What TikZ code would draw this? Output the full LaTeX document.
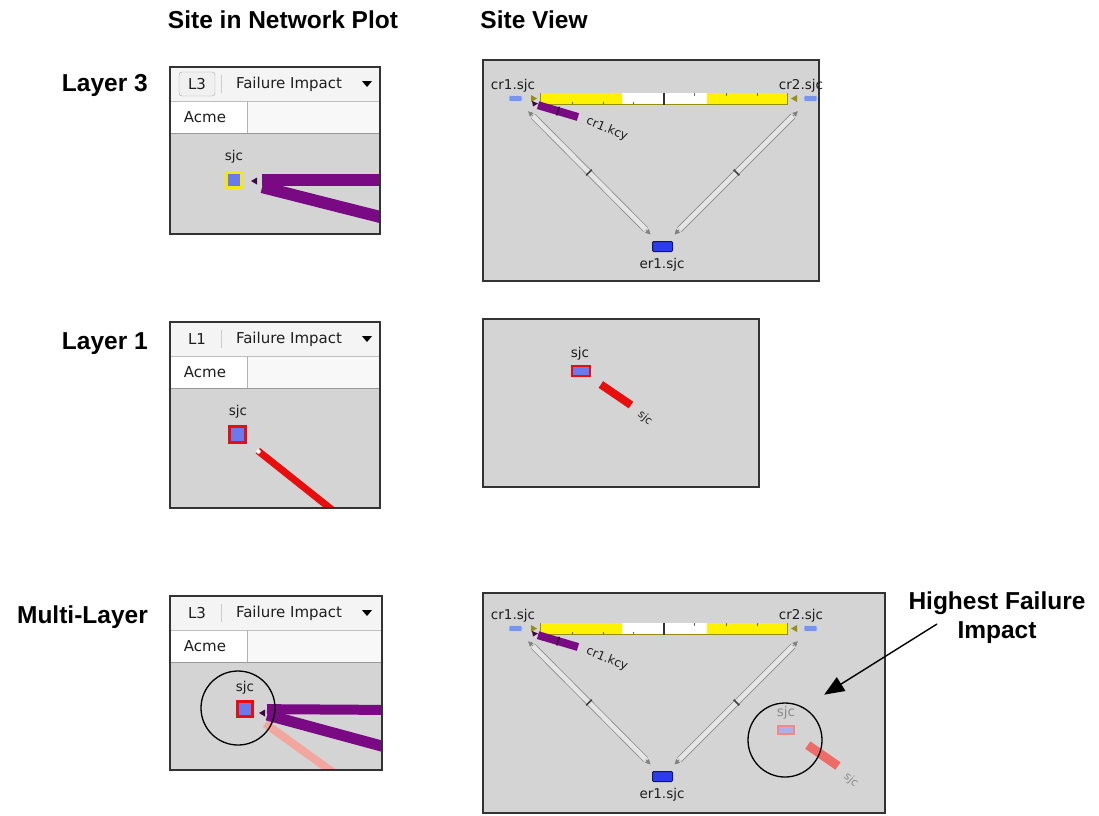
\documentclass[tikz,border=0pt]{standalone}
\usepackage{fontspec}
\setmainfont{Liberation Sans}
\newfontfamily\uifont{DejaVu Sans}
\usetikzlibrary{arrows.meta}

\definecolor{canvas}{RGB}{212,212,212}
\definecolor{barbg}{RGB}{244,244,244}
\definecolor{tabbg}{RGB}{248,248,248}
\definecolor{linkpurple}{RGB}{122,10,132}
\definecolor{nodeblue}{RGB}{104,122,236}
\definecolor{crblue}{RGB}{120,148,236}
\definecolor{erblue}{RGB}{44,60,236}
\definecolor{impred}{RGB}{232,14,14}
\definecolor{fadered}{RGB}{238,108,104}
\definecolor{fadepink}{RGB}{242,166,158}
\definecolor{paleblue}{RGB}{168,176,238}
\definecolor{sjcyellow}{RGB}{244,232,20}
\definecolor{barline}{RGB}{150,142,20}
\definecolor{uigray}{RGB}{30,30,30}

\tikzset{
  heading/.style={font=\bfseries\fontsize{24.5}{29}\selectfont, inner sep=0},
  uitext/.style={font=\uifont\fontsize{15}{18}\selectfont, text=uigray, inner sep=0},
  sitelabel/.style={font=\uifont\fontsize{13.5}{15}\selectfont, text=uigray, inner sep=0},
  rotlabel/.style={font=\uifont\fontsize{11}{13}\selectfont, text=uigray, inner sep=0, rotate=-40},
  panel/.style={draw=black!80, line width=1.6pt},
  btnon/.style={draw=black!35, fill=black!6, rounded corners=3pt, minimum width=36pt, minimum height=24pt},
  btnoff/.style={},
  site/.style={rectangle, inner sep=0, fill=nodeblue, line width=2.6pt, minimum size=15.5pt},
  crnode/.style={rectangle, rounded corners=1pt, inner sep=0, fill=crblue, draw=crblue!45, line width=0.8pt, minimum width=13pt, minimum height=6pt},
  ernode/.style={rectangle, rounded corners=1pt, inner sep=0, fill=erblue, draw=erblue!40!black, line width=1pt, minimum width=20pt, minimum height=10pt},
  graylink/.style={draw=black!45, line width=0.8pt, double=black!10, double distance=4.8pt},
  linktip/.style={draw=black!50, line width=0.5pt, arrows={Triangle[length=5pt,width=5pt]-Triangle[length=5pt,width=5pt]}},
  midtick/.style={midway, sloped, fill=black!75, inner sep=0, minimum width=1.6pt, minimum height=8pt},
  hilite/.style={draw, circle, line width=1.3pt, minimum size=74pt, inner sep=0},
}

\begin{document}
\begin{tikzpicture}[x=1pt, y=-1pt]
\useasboundingbox (0,0) rectangle (1099,815);
\fill[white] (0,0) rectangle (1099,815);

\node[heading] (hdplot) at (283,20) {Site in Network Plot};
\node[heading] (hdview) at (534,20) {Site View};
\node[heading, anchor=east] (lay3) at (148,85) {Layer 3};
\node[heading, anchor=east] (lay1) at (148,344) {Layer 1};
\node[heading, anchor=east] (laym) at (148,617) {Multi-Layer};

\foreach \ya/\yb/\xr/\lay/\btn in {67/234/380/L3/btnon,322/508/380/L1/btnoff,596/770/382/L3/btnoff}{
  \fill[canvas] (170,\ya) rectangle (\xr,\yb);
  \fill[barbg] (170,\ya) rectangle (\xr,\ya+34);
  \fill[tabbg] (170,\ya+34) rectangle (\xr,\ya+66);
  \fill[white] (170,\ya+34) rectangle (247,\ya+66);
  \draw[black!25] (170,\ya+34) -- (\xr,\ya+34);
  \draw[black!30] (247,\ya+34) -- (247,\ya+66);
  \draw[black!40] (170,\ya+66) -- (\xr,\ya+66);
  \draw[black!20] (221,\ya+8) -- (221,\ya+26);
  \node[uitext, \btn] (lay-\ya) at (197,\ya+17) {\lay};
  \node[uitext] (fi-\ya) at (289,\ya+17) {Failure Impact};
  \fill[black] (362,\ya+14) -- (372,\ya+14) -- (367,\ya+20) -- cycle;
  \node[uitext] (acme-\ya) at (205,\ya+50) {Acme};
}

\node[sitelabel] (sjcAl) at (234,157) {sjc};
\node[site, draw=sjcyellow] (sjcA) at (234,180) {};
\coordinate (pa1) at (400,180);
\coordinate (pa2) at (400,222);
\begin{scope}
\clip (170,133) rectangle (380,234);
\draw[linkpurple, line width=12pt, shorten <=28pt] (sjcA.center) -- (pa1);
\draw[linkpurple, line width=12pt, shorten <=29pt] (sjcA.center) -- (pa2);
\end{scope}
\fill[linkpurple!50!black] (251,181) -- (257,177.5) -- (257,184.5) -- cycle;

\node[sitelabel] (sjcBl) at (238,412) {sjc};
\node[site, draw=impred, minimum size=16.4pt] (sjcB) at (237.5,434.5) {};
\coordinate (pb) at (350,524);
\begin{scope}
\clip (170,388) rectangle (380,508);
\draw[impred, line width=7pt, shorten <=26pt] (sjcB.center) -- (pb);
\end{scope}
\fill[white] (258.5,451.5) circle (2.3pt);

\node[sitelabel] (sjcCl) at (245,688) {sjc};
\node[site, draw=impred] (sjcC) at (245,709) {};
\coordinate (pc1) at (400,710);
\coordinate (pc2) at (400,751);
\coordinate (pc3) at (345,781);
\begin{scope}
\clip (170,663) rectangle (382,770);
\draw[fadepink, line width=8pt, shorten <=25pt] (sjcC.center) -- (pc3);
\draw[linkpurple, line width=10pt, shorten <=22pt] (sjcC.center) -- (pc1);
\draw[linkpurple, line width=11pt, shorten <=23pt] (sjcC.center) -- (pc2);
\end{scope}
\fill[linkpurple!50!black] (259,713) -- (265,709.5) -- (265,716.5) -- cycle;
\node[hilite] (hlC) at (238,708) {};

\foreach \ya/\yb/\xr in {67/234/380,322/508/380,596/770/382}
  \draw[panel] (170,\ya) rectangle (\xr,\yb);

\draw[panel, fill=canvas] (483,60) rectangle (819,281);
\draw[panel, fill=canvas] (483,319) rectangle (759,487);
\draw[panel, fill=canvas] (483,593) rectangle (885,813);

\foreach \dy in {0,530}{
\begin{scope}[shift={(0,\dy)}]
  \node[crnode] (cr1-\dy) at (515.5,98.5) {};
  \node[crnode] (cr2-\dy) at (810.5,98.5) {};
  \node[ernode] (er1-\dy) at (662.5,246.5) {};
  \node[sitelabel] (cr1l-\dy) at (513,86) {cr1.sjc};
  \node[sitelabel] (cr2l-\dy) at (801,86) {cr2.sjc};
  \node[sitelabel] (er1l-\dy) at (662,265) {er1.sjc};
  \draw[linktip, shorten <=18pt, shorten >=17pt] (cr1-\dy.center) -- (er1-\dy.center);
  \draw[linktip, shorten <=18pt, shorten >=17pt] (cr2-\dy.center) -- (er1-\dy.center);
  \draw[graylink, shorten <=25pt, shorten >=24pt] (cr1-\dy.center) -- (er1-\dy.center) node[midtick] (t1-\dy) {};
  \draw[graylink, shorten <=25pt, shorten >=24pt] (cr2-\dy.center) -- (er1-\dy.center) node[midtick] (t2-\dy) {};
  \draw[barline, line width=12pt, shorten <=24.5pt, shorten >=22.5pt] (cr1-\dy.center) -- (cr2-\dy.center);
  \draw[yellow, line width=10.4pt, shorten <=25.3pt, shorten >=23.3pt] (cr1-\dy.center) -- (cr2-\dy.center);
  \fill[white] (622,93.3) rectangle (707,103.7);
  \draw[black!80, line width=1.6pt] (664,92.5) -- (664,104.5);
  \foreach \x in {572,603,633} \draw[black!60, line width=0.8pt] (\x,101.5) -- (\x,104);
  \foreach \x in {694,726,757} \draw[black!60, line width=0.8pt] (\x,93) -- (\x,95.5);
  \fill[barline] (531,95) -- (537,98.5) -- (531,102) -- cycle;
  \fill[barline] (797,95) -- (791,98.5) -- (797,102) -- cycle;
  \coordinate (kcy-\dy) at (578,117);
  \draw[linkpurple, line width=8pt, shorten <=23.5pt] (cr1-\dy.center) -- (kcy-\dy) node[midtick, pos=0.68, minimum height=9pt, fill=linkpurple!45!black] (t3-\dy) {};
  \fill[linkpurple!50!black] (532,101) -- (538,103.5) -- (533,106.5) -- cycle;
  \node[sitelabel, rotate=-22, font=\uifont\fontsize{12}{14}\selectfont] (kcyl-\dy) at (607,129) {cr1.kcy};
\end{scope}
}

\node[sitelabel] (sjcEl) at (580,354) {sjc};
\node[site, draw=impred, line width=2.2pt, minimum width=17.8pt, minimum height=9.8pt] (sjcE) at (581,371) {};
\coordinate (pe) at (631,405);
\draw[impred, line width=8pt, shorten <=24pt] (sjcE.center) -- (pe);
\node[rotlabel] (sjcEr) at (645,418) {sjc};

\node[sitelabel, text=black!45] (sjcFl) at (786,713) {sjc};
\node[site, draw=fadered!80, fill=paleblue, line width=2pt, minimum width=16pt, minimum height=8pt] (sjcF) at (786,730) {};
\coordinate (pf) at (838,766);
\draw[fadered, line width=9pt, shorten <=26.5pt] (sjcF.center) -- (pf);
\node[rotlabel, text=black!45] (sjcFr) at (851,780) {sjc};
\node[hilite] (hlF) at (785,740) {};

\node[heading, align=center] (hfi) at (997,618) {Highest Failure\\Impact};
\coordinate (hfiA) at (937,624);
\draw[line width=1.4pt, -{Triangle[length=20pt,width=16pt]}, shorten >=24pt] (hfiA) -- (hlF.60);
\end{tikzpicture}
\end{document}
